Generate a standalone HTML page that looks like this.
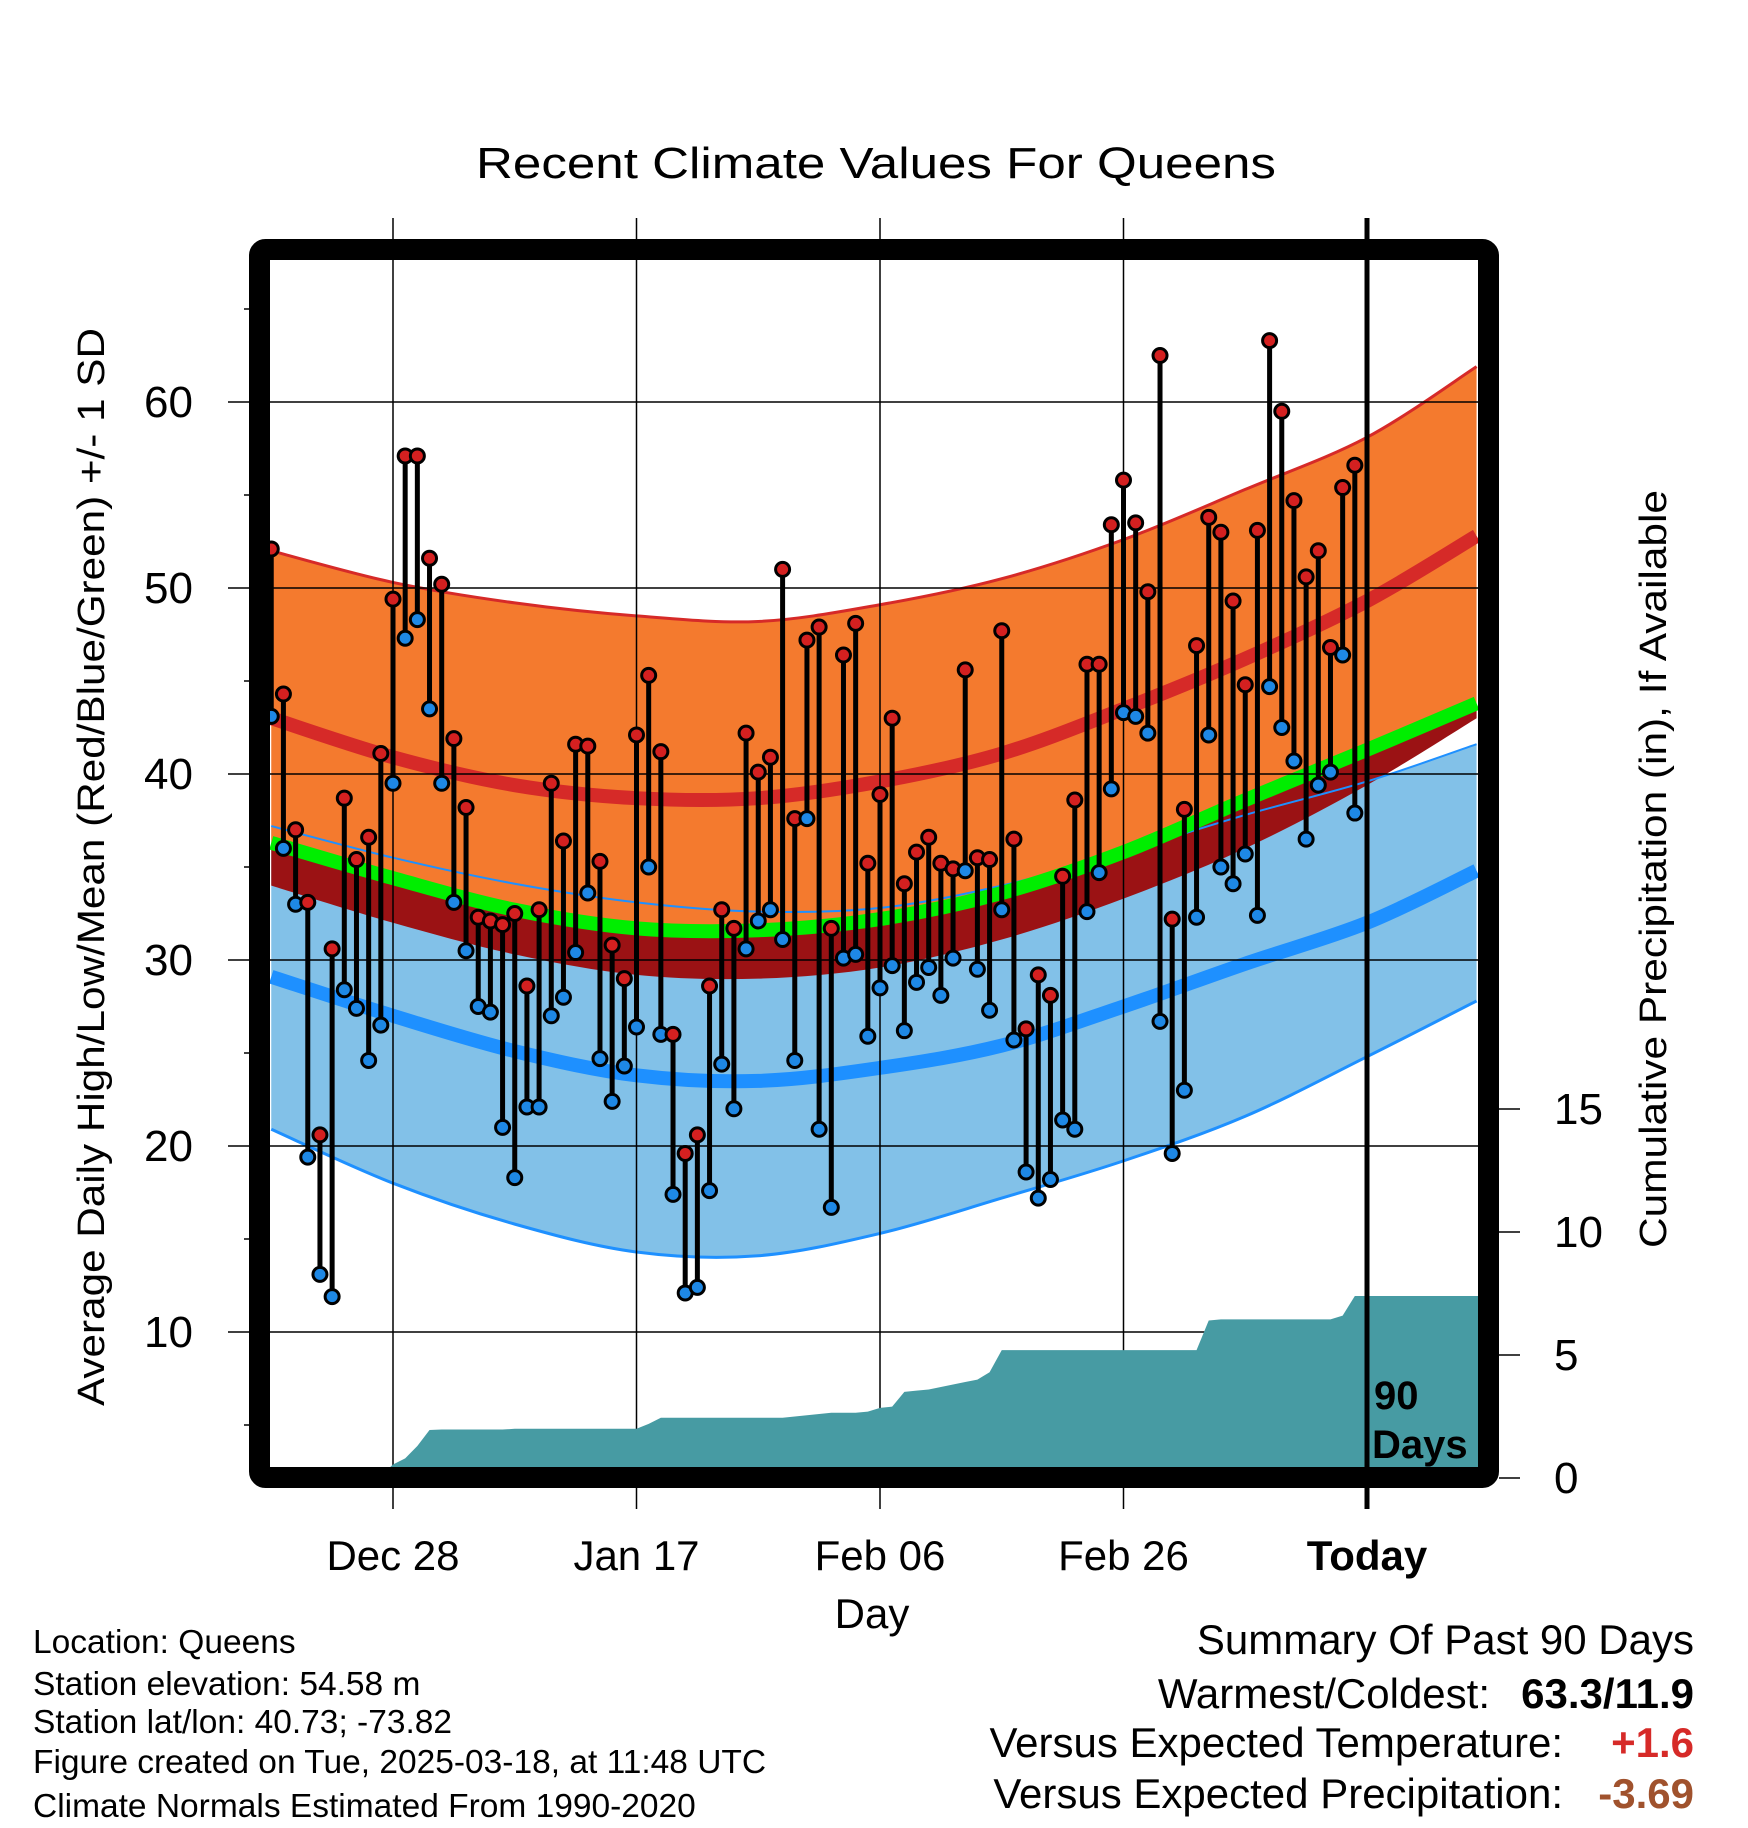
<!DOCTYPE html>
<html><head><meta charset="utf-8"><style>
html,body{margin:0;padding:0;background:#fff;}
svg{display:block;font-family:"Liberation Sans",sans-serif;}
</style></head><body>
<svg id="chart" xmlns="http://www.w3.org/2000/svg" width="1748" height="1828" viewBox="0 0 1748 1828">
<defs><clipPath id="plotclip"><rect x="270" y="260" width="1208" height="1208"/></clipPath></defs>
<text x="876" y="178" font-size="44" text-anchor="middle" textLength="800" lengthAdjust="spacingAndGlyphs">Recent Climate Values For Queens</text>
<g id="bands" clip-path="url(#plotclip)"></g>
<g id="grid"></g>
<g id="precip" clip-path="url(#plotclip)"></g>
<g id="marks"></g>
<g id="axes"></g>
<text transform="translate(104,867) rotate(-90)" font-size="38" text-anchor="middle" textLength="1078" lengthAdjust="spacingAndGlyphs">Average Daily High/Low/Mean (Red/Blue/Green) +/- 1 SD</text>
<text transform="translate(1666,869) rotate(-90)" font-size="38" text-anchor="middle" textLength="758" lengthAdjust="spacingAndGlyphs">Cumulative Precipitation (in), If Available</text>
<text x="872" y="1628" font-size="42" text-anchor="middle">Day</text>
<text x="1374" y="1409" font-size="40" font-weight="bold">90</text>
<text x="1372" y="1458" font-size="40" font-weight="bold">Days</text>
<g font-size="33.5">
<text x="33" y="1653">Location: Queens</text>
<text x="33" y="1695">Station elevation: 54.58 m</text>
<text x="33" y="1733">Station lat/lon: 40.73; -73.82</text>
<text x="33" y="1773">Figure created on Tue, 2025-03-18, at 11:48 UTC</text>
<text x="33" y="1817">Climate Normals Estimated From 1990-2020</text>
</g>
<g font-size="42" text-anchor="end">
<text x="1694" y="1654">Summary Of Past 90 Days</text>
<text x="1490" y="1708">Warmest/Coldest:</text>
<text x="1694" y="1708" font-weight="bold">63.3/11.9</text>
<text x="1563" y="1757">Versus Expected Temperature:</text>
<text x="1694" y="1757" font-weight="bold" fill="#d62a28">+1.6</text>
<text x="1563" y="1808">Versus Expected Precipitation:</text>
<text x="1694" y="1808" font-weight="bold" fill="#a0522d">-3.69</text>
</g>
</svg>
<script>
// ---- data ----
const normDays = [-10,0,10,20,30,40,50,60,70,80,89];
const hiSdUp  = [52.0,50.3,49.2,48.5,48.2,49.1,50.5,52.6,55.3,58.1,61.9];
const hiNorm  = [43.0,40.9,39.4,38.7,38.7,39.6,41.1,43.5,46.2,49.3,52.8];
const meanNorm= [36.3,34.4,32.7,31.7,31.6,32.2,33.6,35.8,38.6,41.3,43.8];
const hiSdDn  = [34.0,32.0,30.3,29.2,29.0,29.6,31.1,33.3,36.0,39.4,43.0];
const loSdUp  = [37.2,35.5,34.1,33.1,32.6,32.8,34.0,35.8,37.8,39.6,41.6];
const loNorm  = [29.1,27.0,25.1,23.8,23.5,24.2,25.4,27.5,29.8,32.0,34.8];
const loSdDn  = [20.9,18.0,15.8,14.3,14.1,15.3,17.2,19.2,21.6,24.8,27.8];
const highs = [52.1,44.3,37.0,33.1,20.6,30.6,38.7,35.4,36.6,41.1,49.4,57.1,57.1,51.6,50.2,41.9,38.2,32.3,32.1,31.9,32.5,28.6,32.7,39.5,36.4,41.6,41.5,35.3,30.8,29.0,42.1,45.3,41.2,26.0,19.6,20.6,28.6,32.7,31.7,42.2,40.1,40.9,51.0,37.6,47.2,47.9,31.7,46.4,48.1,35.2,38.9,43.0,34.1,35.8,36.6,35.2,34.9,45.6,35.5,35.4,47.7,36.5,26.3,29.2,28.1,34.5,38.6,45.9,45.9,53.4,55.8,53.5,49.8,62.5,32.2,38.1,46.9,53.8,53.0,49.3,44.8,53.1,63.3,59.5,54.7,50.6,52.0,46.8,55.4,56.6];
const lows  = [43.1,36.0,33.0,19.4,13.1,11.9,28.4,27.4,24.6,26.5,39.5,47.3,48.3,43.5,39.5,33.1,30.5,27.5,27.2,21.0,18.3,22.1,22.1,27.0,28.0,30.4,33.6,24.7,22.4,24.3,26.4,35.0,26.0,17.4,12.1,12.4,17.6,24.4,22.0,30.6,32.1,32.7,31.1,24.6,37.6,20.9,16.7,30.1,30.3,25.9,28.5,29.7,26.2,28.8,29.6,28.1,30.1,34.8,29.5,27.3,32.7,25.7,18.6,17.2,18.2,21.4,20.9,32.6,34.7,39.2,43.3,43.1,42.2,26.7,19.6,23.0,32.3,42.1,35.0,34.1,35.7,32.4,44.7,42.5,40.7,36.5,39.4,40.1,46.4,37.9];
const precipCum = [0.02,0.02,0.02,0.02,0.02,0.05,0.1,0.1,0.1,0.1,0.55,0.8,1.3,1.95,1.97,1.97,1.97,1.97,1.97,1.97,2.0,2.0,2.0,2.0,2.0,2.0,2.0,2.0,2.0,2.0,2.0,2.2,2.45,2.45,2.45,2.45,2.45,2.45,2.45,2.45,2.45,2.45,2.45,2.5,2.55,2.6,2.65,2.65,2.65,2.7,2.85,2.9,3.5,3.55,3.6,3.7,3.8,3.9,4.0,4.3,5.2,5.2,5.2,5.2,5.2,5.2,5.2,5.2,5.2,5.2,5.2,5.2,5.2,5.2,5.2,5.2,5.2,6.4,6.45,6.45,6.45,6.45,6.45,6.45,6.45,6.45,6.45,6.45,6.6,7.4];
const startDay = -10;
const tempTicks = [10,20,30,40,50,60];
const precipTicks = [0,5,10,15];
const xTickDays = [0,20,40,60,80];
const xTickLabels = ["Dec 28","Jan 17","Feb 06","Feb 26","Today"];

// ---- scales ----
const X0=393, PXD=974/80;
const xS = d => X0 + d*PXD;
const yT = v => 402 + (60 - v)*18.6;
const yP = p => 1478 - p*24.6;
const NS="http://www.w3.org/2000/svg";
function mk(tag, attrs, parent){const e=document.createElementNS(NS,tag);for(const k in attrs)e.setAttribute(k,attrs[k]);parent.appendChild(e);return e;}

function pts(arr){return normDays.map((d,i)=>[xS(d),yT(arr[i])]);}
function spline(p){
  let s="";
  for(let i=0;i<p.length-1;i++){
    const p0=p[Math.max(0,i-1)],p1=p[i],p2=p[i+1],p3=p[Math.min(p.length-1,i+2)];
    const c1=[p1[0]+(p2[0]-p0[0])/6,p1[1]+(p2[1]-p0[1])/6];
    const c2=[p2[0]-(p3[0]-p1[0])/6,p2[1]-(p3[1]-p1[1])/6];
    s+=(i===0?"M"+p1[0]+","+p1[1]:"")+" C"+c1[0]+","+c1[1]+" "+c2[0]+","+c2[1]+" "+p2[0]+","+p2[1];
  }
  return s;
}
function band(top,bot){
  const a=spline(pts(top));
  const b=spline(pts(bot).reverse()).replace(/^M/,"L");
  return a+" "+b+" Z";
}
const bands=document.getElementById("bands");
let e;
e=mk("path",{d:band(loSdUp,loSdDn),fill:"#82c1e8",stroke:"none"},bands);


e=mk("path",{d:band(hiSdUp,meanNorm),fill:"#f47a2e",stroke:"none"},bands);


e=mk("path",{d:band(meanNorm,hiSdDn),fill:"#9b1214",stroke:"none"},bands);


e=mk("path",{d:spline(pts(hiSdUp)),fill:"none",stroke:"#d62a28",'stroke-width':3},bands);


e=mk("path",{d:spline(pts(loSdUp)),fill:"none",stroke:"#1e90ff",'stroke-width':2},bands);


e=mk("path",{d:spline(pts(loSdDn)),fill:"none",stroke:"#1e90ff",'stroke-width':3},bands);


e=mk("path",{d:spline(pts(hiNorm)),fill:"none",stroke:"#d62a28",'stroke-width':14},bands);


e=mk("path",{d:spline(pts(meanNorm)),fill:"none",stroke:"#00ee00",'stroke-width':14},bands);


e=mk("path",{d:spline(pts(loNorm)),fill:"none",stroke:"#1e90ff",'stroke-width':14},bands);



// grid
const grid=document.getElementById("grid");
tempTicks.forEach(v=>{
  e=mk("line",{x1:228,x2:1478,y1:yT(v),y2:yT(v),stroke:"#000",'stroke-width':1.5},grid);
  
  
  e=mk("text",{x:193,y:yT(v)+15,'font-size':44,'text-anchor':'end'},grid);
  e.textContent=v;
  
  
});
for(let v=5;v<=65;v+=10){
  e=mk("line",{x1:244,x2:260,y1:yT(v),y2:yT(v),stroke:"#000",'stroke-width':1.5},grid);
  
  
}
xTickDays.forEach((d,i)=>{
  const last=i===xTickDays.length-1;
  e=mk("line",{x1:xS(d),x2:xS(d),y1:218,y2:1509,stroke:"#000",'stroke-width':last?5:1.5},grid);
  
  
  e=mk("text",{x:xS(d),y:1570,'font-size':42,'text-anchor':'middle','font-weight':last?'bold':'normal'},grid);
  e.textContent=xTickLabels[i];
  
  
});

// precip
const pg=document.getElementById("precip");
let pd="M270,"+yP(0)+" L270,"+yP(0);
precipCum.forEach((p,i)=>{pd+=" L"+xS(startDay+i)+","+yP(p);});
pd+=" L1478,"+yP(precipCum[precipCum.length-1])+" L1478,"+yP(0)+" Z";
e=mk("path",{d:pd,fill:"#479ba3",stroke:"none"},pg);


e=mk("line",{x1:xS(80),x2:xS(80),y1:260,y2:1470,stroke:"#000",'stroke-width':5},pg);



// marks
const mg=document.getElementById("marks");
highs.forEach((h,i)=>{
  const x=xS(startDay+i);
  e=mk("line",{x1:x,x2:x,y1:yT(h),y2:yT(lows[i]),stroke:"#000",'stroke-width':5},mg);
  
  
});
highs.forEach((h,i)=>{
  const x=xS(startDay+i);
  e=mk("circle",{cx:x,cy:yT(lows[i]),r:7,fill:"#1e88e5",stroke:"#000",'stroke-width':3},mg);
  
  
  e=mk("circle",{cx:x,cy:yT(h),r:7,fill:"#d42020",stroke:"#000",'stroke-width':3},mg);
  
  
});

// frame and right axis
const ax=document.getElementById("axes");
e=mk("rect",{x:259.5,y:249.5,width:1229,height:1228,rx:6,fill:"none",stroke:"#000",'stroke-width':21},ax);


precipTicks.forEach(p=>{
  e=mk("line",{x1:1499,x2:1520,y1:yP(p),y2:yP(p),stroke:"#000",'stroke-width':1.5},ax);
  
  
  e=mk("text",{x:1554,y:yP(p)+15,'font-size':44},ax);
  e.textContent=p;
  
  
});
</script>
</body></html>
